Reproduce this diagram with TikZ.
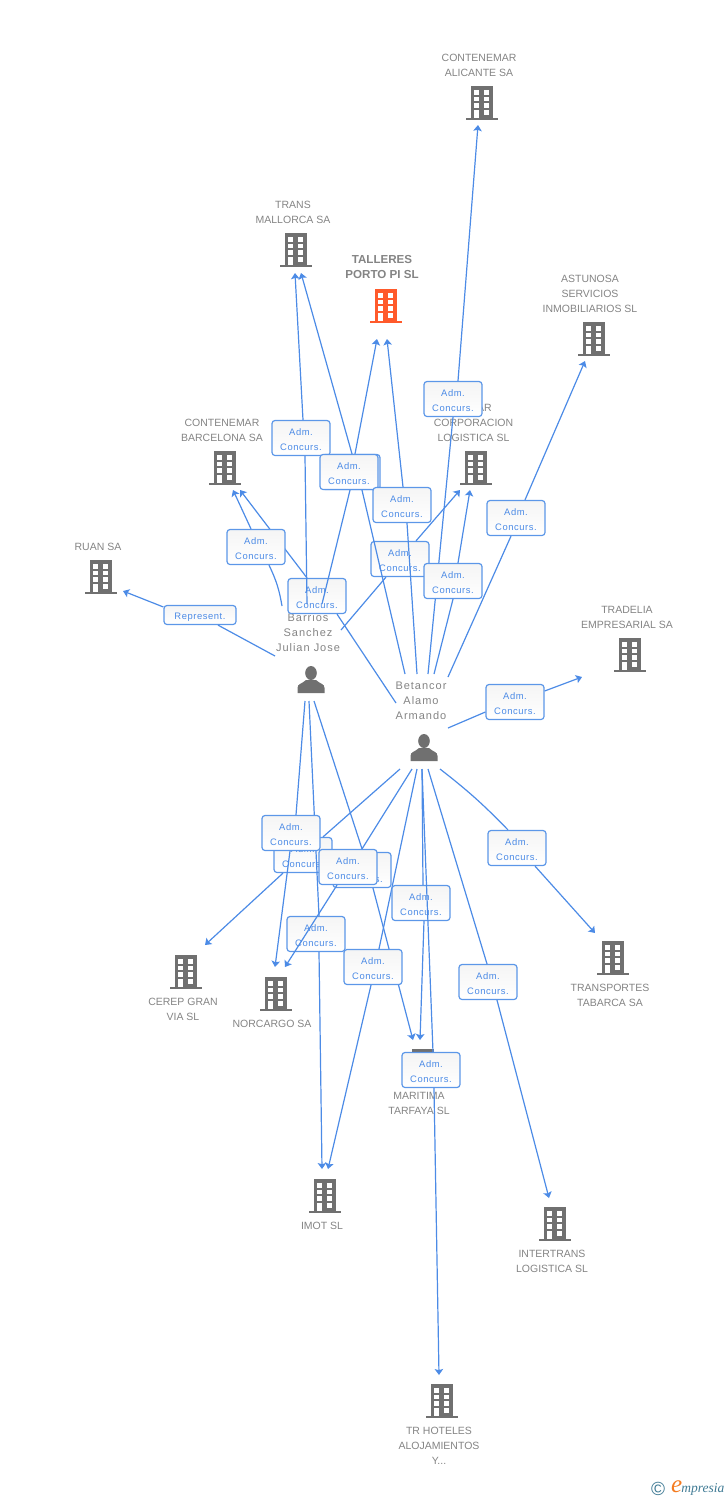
\documentclass[tikz,border=0pt]{standalone}
\usepackage{fontspec}
\setmainfont{Liberation Sans}
\newfontfamily\perfont[LetterSpace=9]{Liberation Sans}
\newfontfamily\boxfont[LetterSpace=6]{Liberation Sans}
\newfontfamily\logofont{Liberation Serif}
\usetikzlibrary{arrows.meta}
\definecolor{linkblue}{HTML}{4C8BE6}
\definecolor{boxblue}{HTML}{5C97E8}
\definecolor{iconc}{HTML}{707070}
\definecolor{mainc}{HTML}{FF5A2B}
\definecolor{txtc}{HTML}{848484}
\definecolor{logoteal}{HTML}{3F7A94}
\definecolor{logoor}{HTML}{F47B20}
\newcommand\admtxt{\rule{0pt}{10pt}Adm.\hspace{4pt}\\Concurs.\hspace{1pt}}
\tikzset{
  complbl/.style={text=txtc, align=center, inner sep=0pt, yshift=-0.7pt, font=\fontsize{10.5}{15}\selectfont},
  mainlbl/.style={text=txtc, align=center, inner sep=0pt, font=\fontsize{11.6}{15}\selectfont\bfseries},
  perlbl/.style={text=txtc, align=center, inner sep=0pt, yshift=-0.5pt, font=\perfont\fontsize{11}{15}\selectfont},
  concurs/.style={draw=boxblue, line width=1.2pt, rounded corners=3pt, top color=black!4, bottom color=white,
    text=linkblue, align=center, inner sep=0pt, minimum width=58pt, minimum height=35pt,
    font=\boxfont\fontsize{9.4}{15}\selectfont},
  represent/.style={concurs, minimum width=72pt, minimum height=19pt},
  link/.style={draw=linkblue, line width=1.2pt},
  building/.pic={
    \fill[pic actions] (-11.3,-17) rectangle (11.3,15);
    \fill[pic actions] (-16,15) rectangle (16,17);
    \foreach \wy in {-12.7,-6.3,0.3} {
      \fill[white] (-7.7,\wy) rectangle ++(4.7,4.5);
      \fill[white] (2.3,\wy) rectangle ++(4.7,4.5);
    }
    \fill[white] (2.3,7) rectangle ++(4.7,4.7);
    \fill[white] (-7.7,7) rectangle (-3,15);
  },
  person/.pic={
    \fill[iconc] (0,-7) ellipse (5.8 and 7);
    \fill[iconc] (-13.5,13) -- (-13.5,8) .. controls (-13.5,3.5) and (-9,4) .. (-5,0)
      -- (5,0) .. controls (9,4) and (13.5,3.5) .. (13.5,8) -- (13.5,13) -- cycle;
  }
}
\begin{document}
\begin{tikzpicture}[x=1pt, y=-1pt, >={Stealth[length=6pt,width=8.5pt,inset=1.2pt]}]
\useasboundingbox (0,0) rectangle (728,1500);

% Companies
\node[complbl] (lblAlicante) at (479,64.5) {CONTENEMAR\\ALICANTE SA};
\pic[fill=iconc] at (482,103) {building};
\node[complbl] (lblTrans) at (293,211.5) {TRANS\\MALLORCA SA};
\pic[fill=iconc] at (296,250) {building};
\node[mainlbl] (lblTalleres) at (382,267.5) {TALLERES\\PORTO PI SL};
\pic[fill=mainc] at (386,306) {building};
\node[complbl] (lblAstunosa) at (590,293) {ASTUNOSA\\SERVICIOS\\INMOBILIARIOS SL};
\pic[fill=iconc] at (594,339) {building};
\node[complbl] (lblBarcelona) at (222,429.5) {CONTENEMAR\\BARCELONA SA};
\pic[fill=iconc] at (225,468) {building};
\node[complbl] (lblCorp) at (473.5,422) {\hspace{22pt}AR\\CORPORACION\\LOGISTICA SL};
\pic[fill=iconc] at (476,468) {building};
\node[complbl] (lblRuan) at (98,546) {RUAN SA};
\pic[fill=iconc] at (101,577) {building};
\node[complbl] (lblTradelia) at (627,616.5) {TRADELIA\\EMPRESARIAL SA};
\pic[fill=iconc] at (630,655) {building};
\node[complbl] (lblCerep) at (183,1008.5) {CEREP GRAN\\VIA SL};
\pic[fill=iconc] at (186,972) {building};
\node[complbl] (lblNorcargo) at (272,1023) {NORCARGO SA};
\pic[fill=iconc] at (276,994) {building};
\node[complbl] (lblTabarca) at (610,994.5) {TRANSPORTES\\TABARCA SA};
\pic[fill=iconc] at (613,958) {building};
\node[complbl] (lblTarfaya) at (419,1102.5) {MARITIMA\\TARFAYA SL};
\pic[fill=iconc] at (423,1066) {building};
\node[complbl] (lblImot) at (322,1225) {IMOT SL};
\pic[fill=iconc] at (325,1196) {building};
\node[complbl] (lblIntertrans) at (552,1260.5) {INTERTRANS\\LOGISTICA SL};
\pic[fill=iconc] at (555,1224) {building};
\node[complbl] (lblHoteles) at (439,1445) {TR HOTELES\\ALOJAMIENTOS\\Y...};
\pic[fill=iconc] at (442,1401) {building};

% People
\node[perlbl] (lblBarrios) at (308,632) {Barrios\\Sanchez\\Julian Jose};
\pic at (311,680) {person};
\node[perlbl] (lblBetancor) at (421,700) {Betancor\\Alamo\\Armando};
\pic at (424,748) {person};

% Line ends
\coordinate (barRuan) at (275,656);
\coordinate (barBarc) at (282,606);
\coordinate (barTrans) at (307,604);
\coordinate (barTall) at (322,604);
\coordinate (barCorp) at (341,630);
\coordinate (barNor) at (305,701);
\coordinate (barImot) at (309,701);
\coordinate (barMar) at (314,701);
\coordinate (betBarc) at (396,703);
\coordinate (betTrans) at (405,674);
\coordinate (betTall) at (417,674);
\coordinate (betAli) at (428,674);
\coordinate (betCorp) at (434,674);
\coordinate (betAst) at (448,677);
\coordinate (betTrad) at (448,728);
\coordinate (betCer) at (400,769);
\coordinate (betNor) at (412,769);
\coordinate (betImot) at (417,769);
\coordinate (betMar) at (422,769);
\coordinate (betHot) at (422,769);
\coordinate (betInt) at (428,769);
\coordinate (betTab) at (440,769);
\coordinate (inRuan) at (123,591);
\coordinate (inBarcA) at (233,490);
\coordinate (inBarcB) at (240,490);
\coordinate (inTransA) at (295,273);
\coordinate (inTransB) at (301,273);
\coordinate (inTallA) at (377,339);
\coordinate (inTallB) at (387,339);
\coordinate (inAli) at (478,125);
\coordinate (inCorpA) at (460,490);
\coordinate (inCorpB) at (470,490);
\coordinate (inAst) at (585,361);
\coordinate (inTrad) at (582,677);
\coordinate (inCer) at (205,945);
\coordinate (inNorA) at (275,967);
\coordinate (inNorB) at (285,967);
\coordinate (inTab) at (595,933);
\coordinate (inMarA) at (413,1040);
\coordinate (inMarB) at (420,1040);
\coordinate (inImotA) at (322,1169);
\coordinate (inImotB) at (328,1169);
\coordinate (inInt) at (549,1198);
\coordinate (inHot) at (439,1375);

% Links, upper part
\node[concurs] (boxBetBarc) at (317,596) {\admtxt};
\draw[link] ([xshift=20pt]boxBetBarc.south) -- (betBarc);
\draw[link,->] ([xshift=-10pt]boxBetBarc.north) -- (inBarcB);

\node[concurs] (boxBarCorp) at (400,559) {\admtxt};
\draw[link] ([xshift=-14pt]boxBarCorp.south) -- (barCorp);
\draw[link,->] ([xshift=16pt]boxBarCorp.north) -- (inCorpA);

\node[concurs] (boxBarTrans) at (301,438) {\admtxt};
\draw[link] ([xshift=4pt]boxBarTrans.south) -- (barTrans);
\draw[link,->] ([xshift=2pt]boxBarTrans.north) -- (inTransA);

\node[concurs] (boxBarTall) at (351,472) {\admtxt};
\draw[link] ([xshift=-1pt]boxBarTall.south) -- (barTall);
\draw[link,->] ([xshift=4pt]boxBarTall.north) -- (inTallA);

\node[concurs] (boxBetTrans) at (349,472) {\admtxt};
\draw[link] ([xshift=13pt]boxBetTrans.south) -- (betTrans);
\draw[link,->] ([xshift=3pt]boxBetTrans.north) -- (inTransB);

\node[concurs] (boxBetTall) at (402,505) {\admtxt};
\draw[link] ([xshift=5pt]boxBetTall.south) -- (betTall);
\draw[link,->] ([xshift=1pt]boxBetTall.north) -- (inTallB);

\node[concurs] (boxBarBarc) at (256,547) {\admtxt};
\draw[link] ([xshift=13pt]boxBarBarc.south) to[bend left=8] (barBarc);
\draw[link,->] ([xshift=-5pt]boxBarBarc.north) -- (inBarcA);

\node[concurs] (boxBetAli) at (453,399) {\admtxt};
\draw[link] (boxBetAli.south) -- (betAli);
\draw[link,->] ([xshift=5pt]boxBetAli.north) -- (inAli);

\node[concurs] (boxBetCorp) at (453,581) {\admtxt};
\draw[link] (boxBetCorp.south) -- (betCorp);
\draw[link,->] ([xshift=5pt]boxBetCorp.north) -- (inCorpB);

\node[concurs] (boxBetAst) at (516,518) {\admtxt};
\draw[link] ([xshift=-5pt]boxBetAst.south) -- (betAst);
\draw[link,->] ([xshift=9pt]boxBetAst.north) -- (inAst);

\node[concurs] (boxBetTrad) at (515,702) {\admtxt};
\draw[link] ([yshift=-10pt]boxBetTrad.west) -- (betTrad);
\draw[link,->] ([yshift=11pt]boxBetTrad.east) -- (inTrad);

\node[represent] (boxBarRuan) at (200,615) {\rule{0pt}{10pt}Represent.};
\draw[link] ([xshift=18pt]boxBarRuan.south) -- (barRuan);
\draw[link,->] ([yshift=8pt]boxBarRuan.west) -- (inRuan);

% Links, lower part
\node[concurs] (boxBetCer) at (303,855) {\admtxt};
\draw[link] ([xshift=20pt]boxBetCer.north) -- (betCer);
\draw[link,->] ([xshift=-20pt]boxBetCer.south) -- (inCer);

\node[concurs] (boxBarImot) at (316,934) {\admtxt};
\draw[link] ([xshift=3pt]boxBarImot.north) -- (barImot);
\draw[link,->] ([xshift=3pt]boxBarImot.south) -- (inImotA);

\node[concurs] (boxBarNor) at (291,833) {\admtxt};
\draw[link] ([xshift=5pt]boxBarNor.north) -- (barNor);
\draw[link,->] ([xshift=-1pt]boxBarNor.south) -- (inNorA);

\node[concurs] (boxBarMar) at (362,870) {\admtxt};
\draw[link] ([xshift=1pt]boxBarMar.north) -- (barMar);
\draw[link,->] ([xshift=11pt]boxBarMar.south) -- (inMarA);

\node[concurs] (boxBetNor) at (348,867) {\admtxt};
\draw[link] ([xshift=14pt]boxBetNor.north) -- (betNor);
\draw[link,->] ([xshift=-11pt]boxBetNor.south) -- (inNorB);

\node[concurs] (boxBetImot) at (373,967) {\admtxt};
\draw[link] ([xshift=6pt]boxBetImot.north) -- (betImot);
\draw[link,->] ([xshift=-2pt]boxBetImot.south) -- (inImotB);

\node[concurs] (boxBetMar) at (421,903) {\admtxt};
\draw[link] ([xshift=2pt]boxBetMar.north) -- (betMar);
\draw[link,->] ([xshift=3pt]boxBetMar.south) -- (inMarB);

\node[concurs] (boxBetHot) at (431,1070) {\admtxt};
\draw[link] ([xshift=2pt]boxBetHot.north) -- (betHot);
\draw[link,->] ([xshift=3pt]boxBetHot.south) -- (inHot);

\node[concurs] (boxBetInt) at (488,982) {\admtxt};
\draw[link] ([xshift=-1pt]boxBetInt.north) -- (betInt);
\draw[link,->] ([xshift=9pt]boxBetInt.south) -- (inInt);

\node[concurs] (boxBetTab) at (517,848) {\admtxt};
\draw[link] ([xshift=-9pt]boxBetTab.north) to[bend right=4] (betTab);
\draw[link,->] ([xshift=18pt]boxBetTab.south) -- (inTab);

% Logo
\node[text=logoteal, inner sep=0pt, font=\fontsize{19}{19}\selectfont] (logoC) at (658,1489) {\textcopyright};
\node[anchor=west, inner sep=0pt, font=\logofont\itshape] (logoE) at (671,1488)
  {\textcolor{logoor}{\fontsize{25}{25}\selectfont e}\hspace{-1pt}\textcolor{logoteal}{\fontsize{13.5}{14}\selectfont mpresia}};

\end{tikzpicture}
\end{document}
